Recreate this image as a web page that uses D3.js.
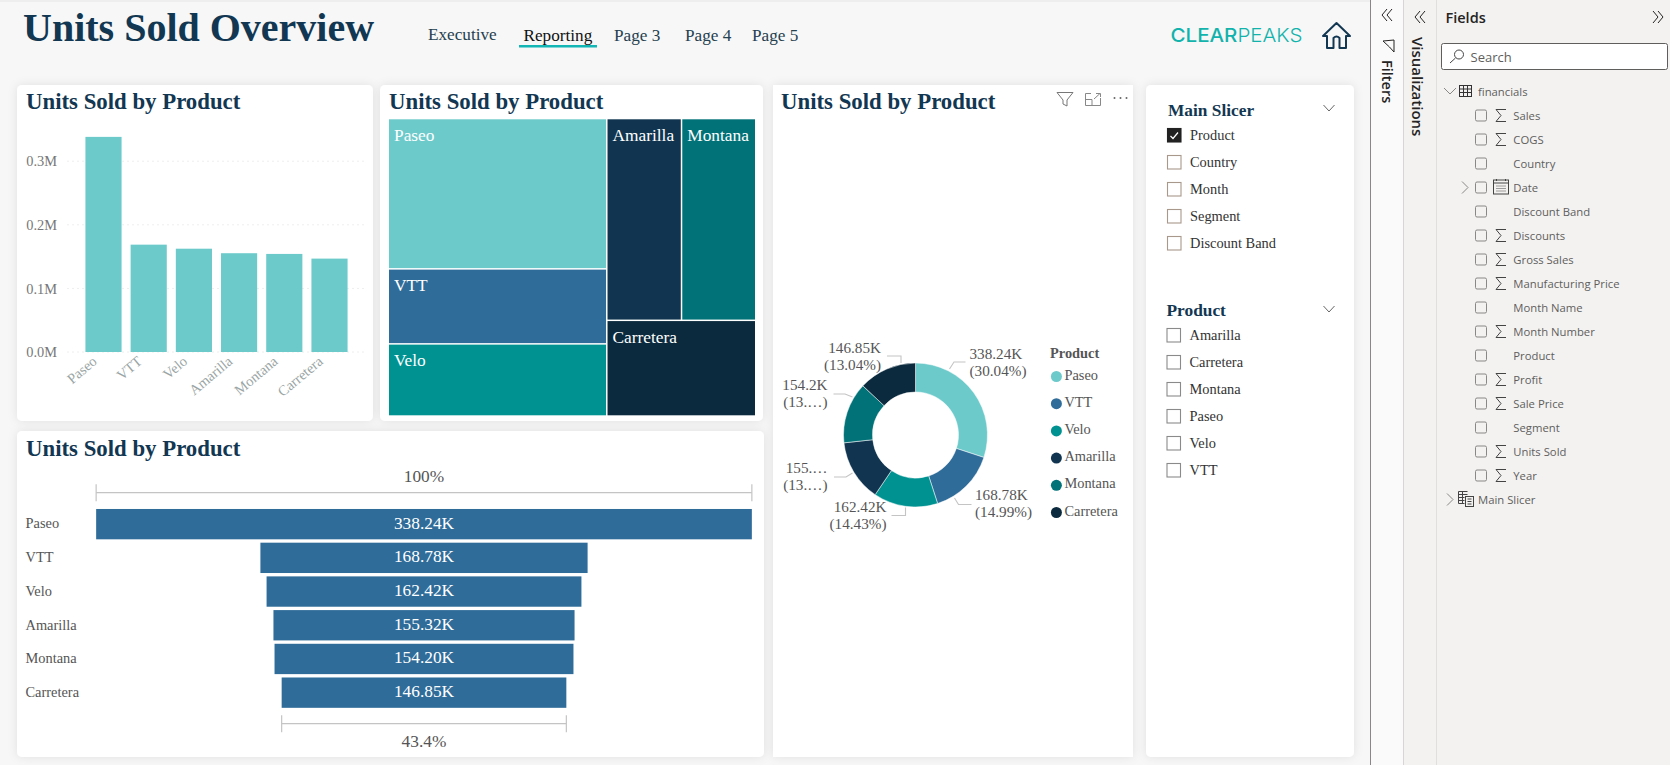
<!DOCTYPE html>
<html>
<head>
<meta charset="utf-8">
<style>
html,body{margin:0;padding:0;background:#f7f7f7;overflow:hidden;}
svg{display:block;}
text{font-family:"Liberation Serif",serif;}
.ui text,text.ui{font-family:"Open Sans",sans-serif;}
</style>
<script src="https://cdn.jsdelivr.net/npm/d3@7"></script>
</head>
<body>
<div id="chart"></div>
<script>
// data
const products = ["Paseo","VTT","Velo","Amarilla","Montana","Carretera"];
const unitsSold = [338240,168780,162420,155320,154200,146850];
const valueLabels = ["338.24K","168.78K","162.42K","155.32K","154.20K","146.85K"];
const donutValueLabels = ["338.24K","168.78K","162.42K","155.…","154.2K","146.85K"];
const donutShareLabels = ["(30.04%)","(14.99%)","(14.43%)","(13.…)","(13.…)","(13.04%)"];
const barTicks = [0,100000,200000,300000];
const funnelTopLabel = "100%";
const funnelBottomLabel = "43.4%";
const navPages = ["Executive","Reporting","Page 3","Page 4","Page 5"];
const mainSlicerItems = ["Product","Country","Month","Segment","Discount Band"];
const productSlicerItems = ["Amarilla","Carretera","Montana","Paseo","Velo","VTT"];
const fieldNames = ["Sales","COGS","Country","Date","Discount Band","Discounts","Gross Sales","Manufacturing Price","Month Name","Month Number","Product","Profit","Sale Price","Segment","Units Sold","Year"];
const sigmaFields = ["Sales","COGS","Discounts","Gross Sales","Manufacturing Price","Month Number","Profit","Sale Price","Units Sold","Year"];

const colors = ["#6dcacb","#2f6c99","#009291","#113550","#007278","#0b2a3e"];
const navy = "#123752";
const width = 1670;
const height = 765;

const svg = d3.select("#chart").append("svg")
.attr("width",width)
.attr("height",height)
.attr("viewBox",`0 0 ${width} ${height}`);

const defs = svg.append("defs");
const shadow = defs.append("filter").attr("id","shadow")
.attr("x","-10%").attr("y","-10%").attr("width","120%").attr("height","120%");
shadow.append("feDropShadow")
.attr("dx",0).attr("dy",0).attr("stdDeviation",5)
.attr("flood-color","#000").attr("flood-opacity",0.09);

// page background
svg.append("rect").attr("width",1370).attr("height",height).attr("fill","#f7f7f7");
svg.append("rect").attr("width",1370).attr("height",2).attr("fill","#eeeeee");

// cards
function card(x,y,w,h,rx){
svg.append("rect")
.attr("x",x).attr("y",y).attr("width",w).attr("height",h)
.attr("rx",rx).attr("fill","#fff")
.attr("filter","url(#shadow)");
}
card(17,85,356,336,5);
card(380,85,383,336,5);
card(17,431,747,326,5);
card(773,85,360,672,0);
card(1146,85,208,672,5);

function cardTitle(x,y){
svg.append("text")
.attr("x",x).attr("y",y)
.attr("font-size","22.8px")
.attr("font-weight","bold")
.attr("fill",navy)
.text("Units Sold by Product");
}
cardTitle(26,109);
cardTitle(389,109);
cardTitle(781,109);
cardTitle(26,456);

// header
svg.append("text")
.attr("x",23).attr("y",41)
.attr("font-size","40px")
.attr("font-weight","bold")
.attr("fill",navy)
.text("Units Sold Overview");

const navX = [428,523.5,614,685,752];
const navY = [39.5,41,41,41,41];
svg.selectAll(".nav").data(navPages).join("text")
.attr("class","nav")
.attr("x",(d,i)=>navX[i])
.attr("y",(d,i)=>navY[i])
.attr("font-size","17.2px")
.attr("fill",(d,i)=>i==1?"#111":"#25404f")
.text(d=>d);
svg.append("rect").attr("x",519).attr("y",45).attr("width",78).attr("height",2.5).attr("fill","#13b5b5");

const logo = svg.append("text")
.attr("x",1170.5).attr("y",41.5)
.attr("font-size","19px")
.attr("fill","#12b3ac")
.attr("textLength",132)
.attr("lengthAdjust","spacingAndGlyphs")
.style("font-family","Inter,sans-serif");
logo.append("tspan").attr("font-weight","500").text("CLEAR");
logo.append("tspan").attr("font-weight","300").text("PEAKS");

svg.append("path")
.attr("transform","translate(1323,22)")
.attr("d","M0,14 L13.5,1 L27,14 L23,14 L23,26 L16.5,26 L16.5,16 Q13.5,13 10.5,16 L10.5,26 L4,26 L4,14 Z")
.attr("fill","none")
.attr("stroke",navy)
.attr("stroke-width",2)
.attr("stroke-linejoin","round");

// bar chart
const barX = d3.scaleBand()
.domain(products)
.range([80.9,352.1])
.paddingInner(0.2)
.paddingOuter(0.1);

const barY = d3.scaleLinear()
.domain([0,350000])
.range([352,129.4]);

const barData = products.map((d,i)=>({name:d,value:unitsSold[i]}));

svg.append("g")
.selectAll("line").data(barTicks).join("line")
.attr("x1",67.5).attr("x2",367)
.attr("y1",d=>barY(d)).attr("y2",d=>barY(d))
.attr("stroke","#dcdcdc")
.attr("stroke-dasharray","1,4");

svg.append("g")
.selectAll("rect").data(barData).join("rect")
.attr("x",d=>barX(d.name))
.attr("y",d=>barY(d.value))
.attr("width",barX.bandwidth())
.attr("height",d=>barY(0)-barY(d.value))
.attr("fill",colors[0]);

const barLeft = svg.append("g")
.attr("transform","translate(61,0)")
.call(d3.axisLeft(barY).tickValues(barTicks).tickSize(0).tickPadding(4).tickFormat(d=>(d/1000000).toFixed(1)+"M"));
barLeft.select(".domain").remove();
barLeft.selectAll("text")
.attr("font-size","14.4px")
.attr("font-family","Liberation Serif")
.attr("fill","#777");

const barBottom = svg.append("g")
.attr("transform","translate(-12,353)")
.call(d3.axisBottom(barX).tickSize(0));
barBottom.select(".domain").remove();
barBottom.selectAll("text")
.attr("font-size","14.4px")
.attr("font-family","Liberation Serif")
.attr("fill","#9aa5a5")
.attr("text-anchor","end")
.attr("dx","-0.1em")
.attr("dy","0.6em")
.attr("transform","rotate(-40)");

// treemap
const treeData = {children:[
{children:products.slice(0,3).map((d,i)=>({name:d,value:unitsSold[i]}))},
{children:[
{children:products.slice(3,5).map((d,i)=>({name:d,value:unitsSold[i+3]}))},
{name:products[5],value:unitsSold[5]}
]}
]};

const treeRoot = d3.hierarchy(treeData).sum(d=>d.value||0);
d3.treemap()
.size([366,296])
.paddingInner(1.5)
.tile((node,x0,y0,x1,y1)=>{
(node.depth%2==0?d3.treemapDice:d3.treemapSlice)(node,x0,y0,x1,y1);
})(treeRoot);

const tree = svg.append("g").attr("transform","translate(389,119.3)");
const leaves = tree.selectAll("g").data(treeRoot.leaves()).join("g");
leaves.append("rect")
.attr("x",d=>d.x0).attr("y",d=>d.y0)
.attr("width",d=>d.x1-d.x0).attr("height",d=>d.y1-d.y0)
.attr("fill",d=>colors[products.indexOf(d.data.name)]);
leaves.append("text")
.attr("x",d=>d.x0+5).attr("y",d=>d.y0+21.5)
.attr("font-size","17.33px")
.attr("fill","#fff")
.text(d=>d.data.name);

// funnel
const funnelWidth = d3.scaleLinear()
.domain([0,d3.max(unitsSold)])
.range([0,655.7]);
const funnelCenter = 424;
const funnelY = d3.scaleBand()
.domain(products)
.range([507.3,709.5])
.paddingInner(0.1)
.paddingOuter(0.05);

const funnelRows = svg.append("g").selectAll("g").data(barData).join("g");
funnelRows.append("rect")
.attr("x",d=>funnelCenter-funnelWidth(d.value)/2)
.attr("y",d=>funnelY(d.name))
.attr("width",d=>funnelWidth(d.value))
.attr("height",funnelY.bandwidth())
.attr("fill",colors[1]);
funnelRows.append("text")
.attr("x",funnelCenter)
.attr("y",d=>funnelY(d.name)+funnelY.bandwidth()/2+4.5)
.attr("text-anchor","middle")
.attr("font-size","17.33px")
.attr("fill","#fff")
.text((d,i)=>valueLabels[i]);
funnelRows.append("text")
.attr("x",25.5)
.attr("y",d=>funnelY(d.name)+funnelY.bandwidth()/2+4.3)
.attr("font-size","14.4px")
.attr("fill","#555")
.text(d=>d.name);

function bracket(value,y,label,textY){
const w = funnelWidth(value);
const g = svg.append("g").attr("stroke","#c4c4c4").attr("stroke-width",1.2);
g.append("line").attr("x1",funnelCenter-w/2).attr("x2",funnelCenter+w/2).attr("y1",y).attr("y2",y);
g.append("line").attr("x1",funnelCenter-w/2).attr("x2",funnelCenter-w/2).attr("y1",y-8.5).attr("y2",y+8.5);
g.append("line").attr("x1",funnelCenter+w/2).attr("x2",funnelCenter+w/2).attr("y1",y-8.5).attr("y2",y+8.5);
svg.append("text")
.attr("x",funnelCenter).attr("y",textY)
.attr("text-anchor","middle")
.attr("font-size","17.33px")
.attr("fill","#555")
.text(label);
}
bracket(unitsSold[0],492.7,funnelTopLabel,481.5);
bracket(unitsSold[5],723.7,funnelBottomLabel,746.5);

// donut
const donutX = 915.5;
const donutY = 435;
const pie = d3.pie().sort(null).startAngle(0).endAngle(2*Math.PI);
const arc = d3.arc().innerRadius(43).outerRadius(72);
const donut = svg.append("g").attr("transform",`translate(${donutX},${donutY})`);
donut.selectAll("path").data(pie(unitsSold)).join("path")
.attr("d",arc)
.attr("fill",(d,i)=>colors[i])
.attr("stroke","#fff")
.attr("stroke-width",0.5);

// leader lines and label anchors, relative to the donut centre
const leaderPaths = [
[[34,-66],[38.5,-73],[50,-73]],
[[39,63],[43,69.5],[56,69.5]],
[[-10,72.5],[-10,80.5],[-24,80.5]],
[[-63,38],[-69.5,42],[-81.5,42]],
[[-63,-38],[-70.5,-41],[-82,-41]],
[[-14.5,-72],[-14.5,-79],[-28.5,-79]]
];
const labelAnchors = [
[54,-76,"start"],
[59.5,65,"start"],
[-29,77,"end"],
[-88,38,"end"],
[-88,-45,"end"],
[-34.5,-82.5,"end"]
];
const leaderLine = d3.line();
donut.selectAll(".leader").data(leaderPaths).join("path")
.attr("class","leader")
.attr("d",d=>leaderLine(d))
.attr("fill","none")
.attr("stroke","#c4c4c4")
.attr("stroke-width",1.1);

const donutLabels = donut.selectAll(".dl").data(products).join("text")
.attr("class","dl")
.attr("font-size","15.2px")
.attr("fill","#555")
.attr("text-anchor",(d,i)=>labelAnchors[i][2])
.attr("transform",(d,i)=>`translate(${labelAnchors[i][0]},${labelAnchors[i][1]})`);
donutLabels.append("tspan").attr("x",0).attr("y",0).text((d,i)=>donutValueLabels[i]);
donutLabels.append("tspan").attr("x",0).attr("y",17.3).text((d,i)=>donutShareLabels[i]);

svg.append("text")
.attr("x",1050).attr("y",358)
.attr("font-size","14.4px")
.attr("font-weight","bold")
.attr("fill","#555")
.text("Product");
const legendY = d3.scalePoint().domain(products).range([376.5,512.5]);
const legend = svg.append("g").selectAll("g").data(products).join("g")
.attr("transform",d=>`translate(1056.4,${legendY(d)})`);
legend.append("circle").attr("r",5.5).attr("fill",(d,i)=>colors[i]);
legend.append("text")
.attr("x",8).attr("y",3)
.attr("font-size","14.4px")
.attr("fill","#555")
.text(d=>d);

// visual header icons on the donut card
svg.append("path")
.attr("d","M1057,92.5H1073L1067,100V106L1063,104V100Z")
.attr("fill","none").attr("stroke","#777").attr("stroke-width",1);
svg.append("path")
.attr("d","M1091,93.5H1085.5V105.5H1100.5V98M1085.5,99.5H1092V105.5M1094,99L1100,93.5M1096,93.5H1100.5V97")
.attr("fill","none").attr("stroke","#888").attr("stroke-width",1);
svg.append("g").selectAll("circle").data([0,1,2]).join("circle")
.attr("cx",d=>1114.5+d*6).attr("cy",98).attr("r",1).attr("fill","#666");

// slicers
function slicer(title,titleX,titleY,items,boxX,firstY,stroke,checked){
svg.append("text")
.attr("x",titleX).attr("y",titleY)
.attr("font-size","17.33px")
.attr("font-weight","bold")
.attr("fill",navy)
.text(title);
const rows = svg.append("g").selectAll("g").data(items).join("g")
.attr("transform",(d,i)=>`translate(${boxX},${firstY+i*27})`);
rows.append("rect")
.attr("x",0.5).attr("y",-6.5)
.attr("width",13.5).attr("height",13.5)
.attr("fill",d=>d==checked?"#222":"#fff")
.attr("stroke",d=>d==checked?"#222":stroke)
.attr("stroke-width",1.1);
rows.filter(d=>d==checked).append("path")
.attr("d","M3.5,1L6,3.5L11,-2.5")
.attr("fill","none").attr("stroke","#fff").attr("stroke-width",1.2);
rows.append("text")
.attr("x",23).attr("y",4.5)
.attr("font-size","14.4px")
.attr("fill","#333")
.text(d=>d);
}
slicer("Main Slicer",1168,116,mainSlicerItems,1167,135,"#a8988c","Product");
slicer("Product",1166.5,316,productSlicerItems,1166.5,335,"#8a8a8a",null);

function chevronDown(y){
svg.append("path")
.attr("d",`M1323.5,${y-3}L1329,${y+3}L1334.5,${y-3}`)
.attr("fill","none").attr("stroke","#666").attr("stroke-width",1);
}
chevronDown(108);
chevronDown(309);

// right panes
const panes = svg.append("g").attr("class","ui");
panes.append("rect").attr("x",1370).attr("y",0).attr("width",33).attr("height",height).attr("fill","#fafafa");
panes.append("rect").attr("x",1403).attr("y",0).attr("width",267).attr("height",height).attr("fill","#f3f2f1");
panes.append("line").attr("x1",1370.5).attr("x2",1370.5).attr("y1",0).attr("y2",height).attr("stroke","#8a8886");
panes.append("line").attr("x1",1403.5).attr("x2",1403.5).attr("y1",0).attr("y2",height).attr("stroke","#d8d6d4");
panes.append("line").attr("x1",1436.5).attr("x2",1436.5).attr("y1",0).attr("y2",height).attr("stroke","#e1dfdd");

function chevrons(x,y,dir){
const d = dir<0
? `M${x+5},${y-6}L${x},${y}L${x+5},${y+6}M${x+10},${y-6}L${x+5},${y}L${x+10},${y+6}`
: `M${x},${y-6}L${x+5},${y}L${x},${y+6}M${x+5},${y-6}L${x+10},${y}L${x+5},${y+6}`;
panes.append("path").attr("d",d).attr("fill","none").attr("stroke","#252423").attr("stroke-width",1);
}
chevrons(1382,15,-1);
chevrons(1415,17,-1);
chevrons(1653,17,1);

panes.append("path")
.attr("d","M1383,41L1394,40V52L1389.5,47Z")
.attr("fill","none").attr("stroke","#252423");
panes.append("text")
.attr("transform","translate(1381.5,60) rotate(90)")
.attr("font-size","14.5px")
.attr("font-weight","600")
.attr("fill","#252423")
.text("Filters");
panes.append("text")
.attr("transform","translate(1412,37) rotate(90)")
.attr("font-size","15px")
.attr("font-weight","600")
.attr("fill","#252423")
.text("Visualizations");

panes.append("text")
.attr("x",1445.5).attr("y",22.5)
.attr("font-size","14.5px")
.attr("font-weight","600")
.attr("fill","#252423")
.text("Fields");

panes.append("rect")
.attr("x",1441.5).attr("y",43.5).attr("width",226).attr("height",26).attr("rx",2)
.attr("fill","#fff").attr("stroke","#605e5c");
panes.append("circle").attr("cx",1459).attr("cy",54.5).attr("r",4.5).attr("fill","none").attr("stroke","#444");
panes.append("line").attr("x1",1455.5).attr("y1",58).attr("x2",1450).attr("y2",63).attr("stroke","#444");
panes.append("text")
.attr("x",1470.5).attr("y",61.5)
.attr("font-size","13px")
.attr("fill","#605e5c")
.text("Search");

function chevronRight(x,y){
panes.append("path").attr("d",`M${x},${y-6}L${x+6},${y}L${x},${y+6}`)
.attr("fill","none").attr("stroke","#8a8886");
}
panes.append("path").attr("d","M1444,88L1450,94L1456,88").attr("fill","none").attr("stroke","#8a8886");
const tableIcon = panes.append("g").attr("transform","translate(1459.5,85.5)").attr("fill","none").attr("stroke","#333");
tableIcon.append("rect").attr("width",12).attr("height",11);
tableIcon.append("path").attr("d","M0,3.5H12M0,7H12M4,0V11M8,0V11");
panes.append("text")
.attr("x",1478).attr("y",95.5)
.attr("font-size","11.3px")
.attr("fill","#605e5c")
.text("financials");

const fieldRows = panes.append("g").selectAll("g").data(fieldNames).join("g")
.attr("transform",(d,i)=>`translate(0,${115.5+i*24})`);
fieldRows.append("rect")
.attr("x",1475.5).attr("y",-5.5)
.attr("width",11).attr("height",11).attr("rx",1.5)
.attr("fill","#f3f2f1").attr("stroke","#8a8886");
fieldRows.filter(d=>sigmaFields.includes(d)).append("path")
.attr("d","M1506,-6H1496L1501,0L1496,6H1506")
.attr("fill","none").attr("stroke","#444");
fieldRows.append("text")
.attr("x",1513.3).attr("y",4)
.attr("font-size","11.3px")
.attr("fill","#605e5c")
.text(d=>d);

chevronRight(1462,187.5);
const calIcon = panes.append("g").attr("transform","translate(1493.5,180)").attr("fill","none").attr("stroke","#444");
calIcon.append("rect").attr("width",15).attr("height",14);
calIcon.append("path").attr("d","M0,3H15M3,-1V1M12,-1V1");
calIcon.append("path").attr("d","M3,6H12M3,8.5H12M3,11H12").attr("stroke-dasharray","1,1");

chevronRight(1447,499.5);
const calcIcon = panes.append("g").attr("transform","translate(1458.5,491.5)").attr("fill","none").attr("stroke","#444");
calcIcon.append("path").attr("d","M0,0H9M0,3H9M0,6H6M0,9H6M0,12H6M0,0V12M4,0V12");
calcIcon.append("rect").attr("x",7).attr("y",5).attr("width",8).attr("height",10);
calcIcon.append("path").attr("d","M9,7.5H13M9,10H13M9,12.5H13");
panes.append("text")
.attr("x",1478).attr("y",503.5)
.attr("font-size","11.3px")
.attr("fill","#605e5c")
.text("Main Slicer");
</script>
</body>
</html>
